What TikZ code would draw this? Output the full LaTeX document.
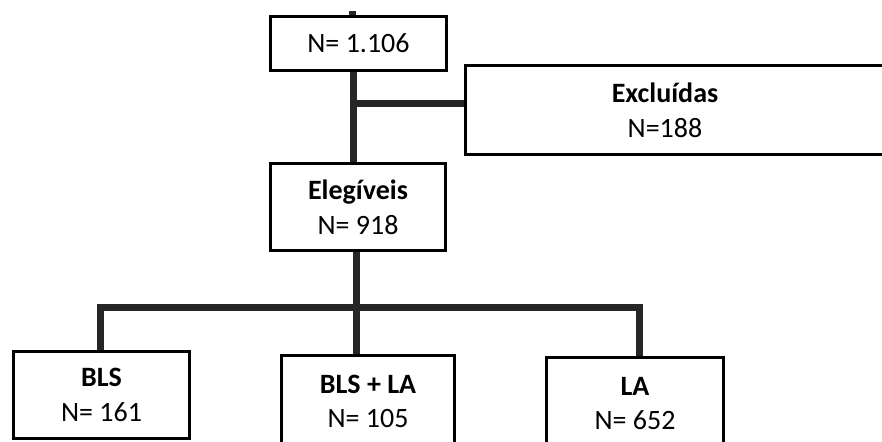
\documentclass[tikz,border=0pt]{standalone}
\usepackage{fontspec}
\setmainfont{Carlito}
\definecolor{linkgray}{HTML}{262626}
\begin{document}
\begin{tikzpicture}[x=0.75pt, y=-0.75pt,
    box/.style={draw, line width=2.25pt, fill=white, align=center, inner sep=0pt},
    link/.style={draw=linkgray, line width=5.25pt},
    every node/.style={font=\fontsize{21}{26}\selectfont}]
  \useasboundingbox (0,0) rectangle (882,442);
  \clip (0,0) rectangle (882,442);
  % boxes
  \node[box, minimum width=132pt, minimum height=41pt] (total) at (358.5,43.5) {N= 1.106};
  \node[box, minimum width=340pt, minimum height=67pt, anchor=west] (excl) at (463.5,110) {};
  \node[align=center] (excltext) at (665,110) {\textbf{Excluídas}\\N=188};
  \node[box, minimum width=131pt, minimum height=65pt] (eleg) at (358,207) {\textbf{Elegíveis}\\N= 918};
  \node[box, minimum width=132pt, minimum height=65pt] (bls) at (101.5,395) {\textbf{BLS}\\N= 161};
  \node[box, minimum width=130pt, minimum height=69pt] (blsla) at (368,401.5) {\textbf{BLS + LA}\\N= 105};
  \node[box, minimum width=133pt, minimum height=69pt] (la) at (635,403.5) {\textbf{LA}\\N= 652};
  % connectors
  \coordinate (stub) at (352,11);
  \coordinate (split) at (353,104);
  \coordinate (hub) at (356,307);
  \coordinate (lft) at (100,307);
  \coordinate (rgt) at (639,307);
  \draw[link] (stub) -- (stub |- total.north);
  \draw[link] (split |- total.south) -- (split |- eleg.north);
  \draw[link] (split) -- (split -| excl.west);
  \draw[link] (hub |- eleg.south) -- (hub |- blsla.north);
  \draw[link] (lft |- bls.north) -- (lft) -- (rgt) -- (rgt |- la.north);
\end{tikzpicture}
\end{document}
